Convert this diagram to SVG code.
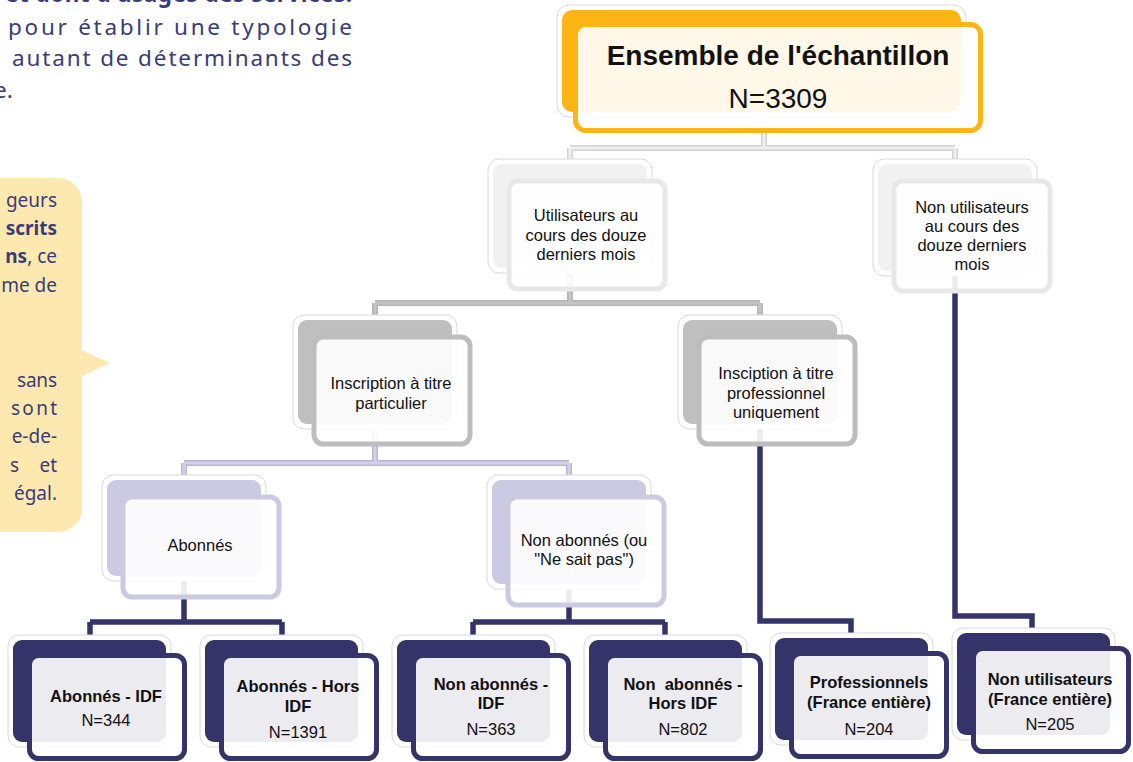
<svg xmlns="http://www.w3.org/2000/svg" width="1133" height="762" viewBox="0 0 1133 762">
<style>
.t{font-family:"Liberation Sans",Arial,sans-serif;font-size:16.5px;fill:#111;text-anchor:middle}
.b{font-weight:bold}
.big{font-size:28px}
.p{font-family:"Noto Sans","Open Sans",sans-serif;fill:#3a3b7a}
.halo{fill:#fff;stroke:#d9d9d9;stroke-width:1}
.front{fill:#fff;fill-opacity:0.9;stroke-width:5}
.c1o{fill:none;stroke:#d2d2d2;stroke-width:6}
.c1i{fill:none;stroke:#efefef;stroke-width:3}
.c2o{fill:none;stroke:#b5b5b5;stroke-width:6}
.c2i{fill:none;stroke:#c4c4c4;stroke-width:3}
.c3o{fill:none;stroke:#b7b4d4;stroke-width:6}
.c3i{fill:none;stroke:#d3d1e8;stroke-width:3}
.c4{fill:none;stroke:#35346a;stroke-width:5.5}
</style>

<g id="intro-text" class="p">
  <text x="5" y="2" font-size="22.5" font-weight="bold" textLength="347" lengthAdjust="spacing">et dont d'usages des services.</text>
  <text x="8" y="35" font-size="22.5" textLength="344" lengthAdjust="spacing">pour établir une typologie</text>
  <text x="12" y="66" font-size="22.5" textLength="340" lengthAdjust="spacing">autant de déterminants des</text>
  <text x="-6" y="98" font-size="22.5">e.</text>
</g>

<g id="callout">
  <path d="M-30,178 H58 A24,24 0 0 1 82,202 V350 L110,363 L82,376 V508 A24,24 0 0 1 58,532 H-30 Z" fill="#fde8b0"/>
  <g class="p" font-size="19">
    <text x="57" y="207" text-anchor="end">geurs</text>
    <text x="57" y="235" text-anchor="end" font-weight="bold">scrits</text>
    <text x="57" y="263" text-anchor="end"><tspan font-weight="bold">ns</tspan>, ce</text>
    <text x="57" y="292" text-anchor="end">me de</text>
    <text x="17" y="387" textLength="40" lengthAdjust="spacing">sans</text>
    <text x="11" y="415" textLength="46" lengthAdjust="spacing">sont</text>
    <text x="57" y="443" text-anchor="end">e-de-</text>
    <text x="10" y="472">s</text>
    <text x="57" y="472" text-anchor="end">et</text>
    <text x="57" y="500" text-anchor="end">égal.</text>
  </g>
</g>

<g id="connectors">
  <path class="c1o" d="M764,100 V148 M570,148 H955 M570,148 V170 M955,148 V170"/>
  <path class="c1i" d="M764,100 V148 M570,148 H955 M570,148 V170 M955,148 V170"/>
  <path class="c2o" d="M570,250 V303 M375,303 H760 M375,303 V326 M760,303 V326"/>
  <path class="c2i" d="M570,250 V303 M375,303 H760 M375,303 V326 M760,303 V326"/>
  <path class="c3o" d="M375,410 V463 M184,463 H569 M184,463 V486 M569,463 V486"/>
  <path class="c3i" d="M375,410 V463 M184,463 H569 M184,463 V486 M569,463 V486"/>
  <path class="c4" d="M184,560 V622 M90,622 H282 M90,622 V645 M282,622 V645"/>
  <path class="c4" d="M569,570 V622 M473,622 H665 M473,622 V645 M665,622 V645"/>
  <path class="c4" d="M760,400 V621 H851 V643"/>
  <path class="c4" d="M955,250 V616 H1032 V638"/>
</g>

<g id="node-root">
  <rect class="halo" x="557" y="5" width="409" height="112" rx="12"/>
  <rect x="562" y="10" width="399" height="102" rx="10" fill="#fdb515"/>
  <rect class="front" x="575.5" y="24.5" width="405" height="106" rx="10" stroke="#fdb515"/>
  <text class="t b big" x="778" y="65">Ensemble de l'échantillon</text>
  <text class="t big" x="778" y="108">N=3309</text>
</g>

<g id="node-utilisateurs">
  <rect class="halo" x="488" y="159" width="164" height="114" rx="11"/>
  <rect x="493" y="164" width="154" height="104" rx="9" fill="#f1f1f1"/>
  <rect class="front" x="509" y="181" width="156" height="108" rx="9" stroke="#e8e8e8"/>
  <text class="t" x="586" y="221">Utilisateurs au</text>
  <text class="t" x="586" y="241">cours des douze</text>
  <text class="t" x="586" y="260">derniers mois</text>
</g>

<g id="node-non-utilisateurs">
  <rect class="halo" x="873" y="159" width="164" height="117" rx="11"/>
  <rect x="878" y="164" width="154" height="107" rx="9" fill="#f1f1f1"/>
  <rect class="front" x="894" y="181" width="156" height="110" rx="9" stroke="#e8e8e8"/>
  <text class="t" x="972" y="213">Non utilisateurs</text>
  <text class="t" x="972" y="232">au cours des</text>
  <text class="t" x="972" y="251">douze derniers</text>
  <text class="t" x="972" y="270">mois</text>
</g>

<g id="node-particulier">
  <rect class="halo" x="293" y="315" width="164" height="114" rx="11"/>
  <rect x="298" y="320" width="154" height="104" rx="9" fill="#bfbfbf"/>
  <rect class="front" x="314" y="337" width="156" height="107" rx="9" stroke="#bdbdbd"/>
  <text class="t" x="391" y="389">Inscription à titre</text>
  <text class="t" x="391" y="409">particulier</text>
</g>

<g id="node-professionnel">
  <rect class="halo" x="678" y="315" width="164" height="114" rx="11"/>
  <rect x="683" y="320" width="154" height="104" rx="9" fill="#bfbfbf"/>
  <rect class="front" x="699" y="337" width="156" height="107" rx="9" stroke="#bdbdbd"/>
  <text class="t" x="776" y="379">Insciption à titre</text>
  <text class="t" x="776" y="399">professionnel</text>
  <text class="t" x="776" y="418">uniquement</text>
</g>

<g id="node-abonnes">
  <rect class="halo" x="102" y="475" width="164" height="106" rx="11"/>
  <rect x="107" y="480" width="154" height="96" rx="9" fill="#cccae3"/>
  <rect class="front" x="123" y="497" width="156" height="100" rx="9" stroke="#cccae3"/>
  <text class="t" x="200" y="551">Abonnés</text>
</g>

<g id="node-non-abonnes">
  <rect class="halo" x="487" y="475" width="164" height="114" rx="11"/>
  <rect x="492" y="480" width="154" height="104" rx="9" fill="#cccae3"/>
  <rect class="front" x="508" y="497" width="156" height="108" rx="9" stroke="#cccae3"/>
  <text class="t" x="584" y="546">Non abonnés (ou</text>
  <text class="t" x="584" y="565">"Ne sait pas")</text>
</g>

<g id="node-abonnes-idf">
  <rect class="halo" x="8" y="635" width="163" height="112" rx="11"/>
  <rect x="13" y="640" width="153" height="102" rx="9" fill="#35346a"/>
  <rect class="front" x="29.5" y="655.5" width="155" height="103" rx="9" stroke="#35346a"/>
  <text class="t b" x="106" y="702">Abonnés - IDF</text>
  <text class="t" x="106" y="726">N=344</text>
</g>

<g id="node-abonnes-hors-idf">
  <rect class="halo" x="200" y="635" width="163" height="112" rx="11"/>
  <rect x="205" y="640" width="153" height="102" rx="9" fill="#35346a"/>
  <rect class="front" x="221.5" y="655.5" width="155" height="103" rx="9" stroke="#35346a"/>
  <text class="t b" x="298" y="692">Abonnés - Hors</text>
  <text class="t b" x="298" y="712">IDF</text>
  <text class="t" x="298" y="738">N=1391</text>
</g>

<g id="node-non-abonnes-idf">
  <rect class="halo" x="392" y="635" width="163" height="112" rx="11"/>
  <rect x="397" y="640" width="153" height="102" rx="9" fill="#35346a"/>
  <rect class="front" x="413.5" y="655.5" width="155" height="103" rx="9" stroke="#35346a"/>
  <text class="t b" x="491" y="690">Non abonnés -</text>
  <text class="t b" x="491" y="709">IDF</text>
  <text class="t" x="491" y="735">N=363</text>
</g>

<g id="node-non-abonnes-hors-idf">
  <rect class="halo" x="584" y="635" width="163" height="112" rx="11"/>
  <rect x="589" y="640" width="153" height="102" rx="9" fill="#35346a"/>
  <rect class="front" x="605.5" y="655.5" width="155" height="103" rx="9" stroke="#35346a"/>
  <text class="t b" x="683" y="690" xml:space="preserve">Non  abonnés -</text>
  <text class="t b" x="683" y="709">Hors IDF</text>
  <text class="t" x="683" y="735">N=802</text>
</g>

<g id="node-professionnels">
  <rect class="halo" x="770" y="633" width="163" height="112" rx="11"/>
  <rect x="775" y="638" width="153" height="102" rx="9" fill="#35346a"/>
  <rect class="front" x="791.5" y="653.5" width="155" height="103" rx="9" stroke="#35346a"/>
  <text class="t b" x="869" y="688">Professionnels</text>
  <text class="t b" x="869" y="708">(France entière)</text>
  <text class="t" x="869" y="735">N=204</text>
</g>

<g id="node-non-utilisateurs-france">
  <rect class="halo" x="952" y="628" width="163" height="112" rx="11"/>
  <rect x="957" y="633" width="153" height="102" rx="9" fill="#35346a"/>
  <rect class="front" x="973.5" y="648.5" width="155" height="103" rx="9" stroke="#35346a"/>
  <text class="t b" x="1050" y="685">Non utilisateurs</text>
  <text class="t b" x="1050" y="705">(France entière)</text>
  <text class="t" x="1050" y="730">N=205</text>
</g>
</svg>
